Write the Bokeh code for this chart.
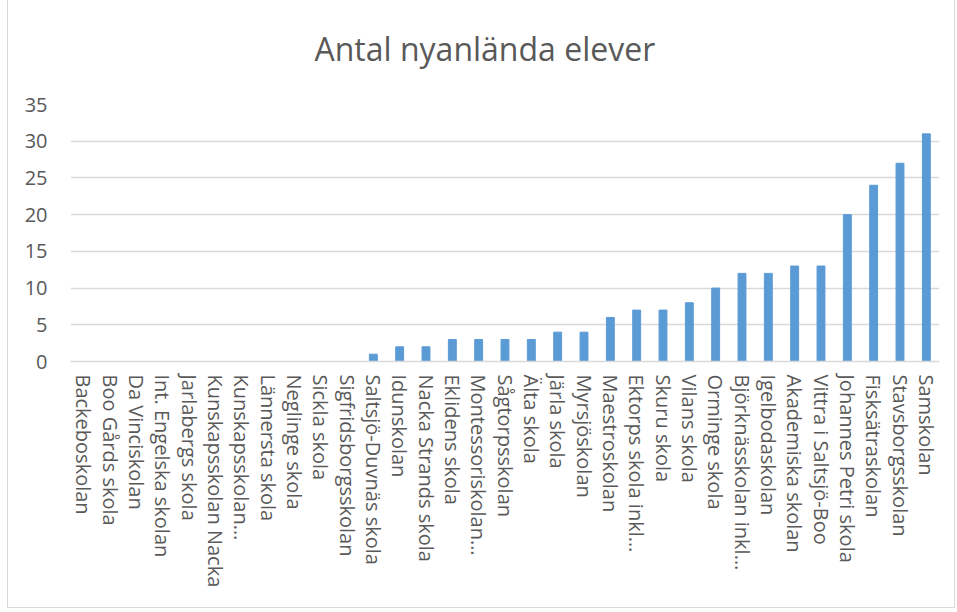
import math
from bokeh.plotting import figure
from bokeh.models import Range1d, FactorRange, FixedTicker, ColumnDataSource, Title
from bokeh.embed import file_html
from bokeh.resources import INLINE

schools = [
    "Backeboskolan", "Boo Gårds skola", "Da Vinciskolan", "Int. Engelska skolan",
    "Jarlabergs skola", "Kunskapsskolan Nacka", "Kunskapsskolan…", "Lännersta skola",
    "Neglinge skola", "Sickla skola", "Sigfridsborgsskolan", "Saltsjö-Duvnäs skola",
    "Idunskolan", "Nacka Strands skola", "Eklidens skola", "Montessoriskolan…",
    "Sågtorpsskolan", "Älta skola", "Järla skola", "Myrsjöskolan", "Maestroskolan",
    "Ektorps skola inkl…", "Skuru skola", "Vilans skola", "Orminge skola",
    "Björknässkolan inkl…", "Igelbodaskolan", "Akademiska skolan", "Vittra i Saltsjö-Boo",
    "Johannes Petri skola", "Fisksätraskolan", "Stavsborgsskolan", "Samskolan",
]
students = [0, 0, 0, 0, 0, 0, 0, 0, 0, 0, 0, 1, 2, 2, 3, 3, 3, 3, 4, 4, 6,
            7, 7, 8, 10, 12, 12, 13, 13, 20, 24, 27, 31]
y_ticks = [0, 5, 10, 15, 20, 25, 30, 35]
chart_title = "Antal nyanlända elever"

FONT = "Open Sans"
GREY = "#595959"

src = ColumnDataSource(dict(x=schools, top=students))

p = figure(
    width=948, height=624,
    x_range=FactorRange(*schools, range_padding=0),
    y_range=Range1d(0, 35),
    output_backend="svg", toolbar_location=None, title=None,
    min_border_left=62, min_border_right=17, min_border_top=119, min_border_bottom=248,
)
p.vbar(x="x", top="top", width=0.3, source=src, color="#5B9BD5")

main_title = Title(
    text=chart_title, align="left", offset=244, standoff=66, vertical_align="top",
    text_font=FONT, text_font_size="32px", text_font_style="normal", text_color=GREY,
)
p.add_layout(main_title, "above")

p.outline_line_color = None
p.xgrid.grid_line_color = None
p.ygrid.grid_line_color = "#D9D9D9"
p.ygrid.grid_line_width = 1.5

p.yaxis.ticker = FixedTicker(ticks=y_ticks)
p.yaxis.axis_line_color = None
p.yaxis.major_tick_line_color = None
p.yaxis.minor_tick_line_color = None
p.yaxis.major_label_text_font = FONT
p.yaxis.major_label_text_font_size = "20px"
p.yaxis.major_label_text_color = GREY
p.yaxis.major_label_standoff = 17

p.xaxis.axis_line_color = "#D9D9D9"
p.xaxis.axis_line_width = 1.5
p.xaxis.major_tick_line_color = None
p.xaxis.minor_tick_line_color = None
p.xaxis.major_label_orientation = -math.pi / 2
p.xaxis.major_label_text_font = FONT
p.xaxis.major_label_text_font_size = "20px"
p.xaxis.major_label_text_color = GREY
p.xaxis.major_label_standoff = 7

p.styles = {"border": "1px solid #D9D9D9", "position": "relative", "left": "7px", "top": "-16px"}

open("out.html", "w").write(file_html(p, INLINE))
